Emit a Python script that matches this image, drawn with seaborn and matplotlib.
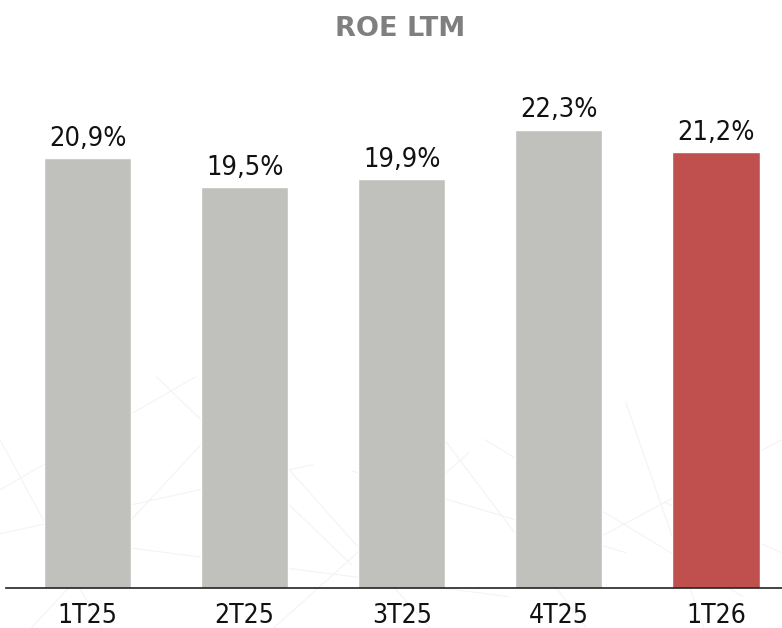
import matplotlib
matplotlib.use("Agg")
import matplotlib.pyplot as plt
from matplotlib.lines import Line2D
import seaborn as sns
import pandas as pd

quarters = ["1T25", "2T25", "3T25", "4T25", "1T26"]
roe_ltm = [20.9, 19.5, 19.9, 22.3, 21.2]
bar_colors = ["#C0C1BC", "#C0C1BC", "#C0C1BC", "#C0C1BC", "#C0504D"]

sns.set_theme(style="white")
plt.rcParams["font.family"] = ["DejaVu Sans"]

df = pd.DataFrame({"trimestre": quarters, "roe": roe_ltm})

fig = plt.figure(figsize=(7.82, 6.28), dpi=100)

# faint network texture in the lower part of the slide background
web = [
    ((0.00, 0.30), (0.13, 0.00)), ((0.00, 0.15), (0.40, 0.26)),
    ((0.04, 0.00), (0.30, 0.35)), ((0.15, 0.13), (0.65, 0.05)),
    ((0.30, 0.35), (0.55, 0.00)), ((0.35, 0.00), (0.60, 0.28)),
    ((0.45, 0.25), (0.80, 0.12)), ((0.55, 0.33), (0.75, 0.00)),
    ((0.62, 0.30), (0.95, 0.05)), ((0.70, 0.10), (1.00, 0.30)),
    ((0.80, 0.36), (0.90, 0.00)), ((0.85, 0.20), (1.00, 0.12)),
    ((0.20, 0.40), (0.45, 0.10)), ((0.00, 0.22), (0.25, 0.40)),
]
for (x0, y0), (x1, y1) in web:
    fig.add_artist(Line2D([x0, x1], [y0, y1], transform=fig.transFigure,
                          color="#F4F2F0", lw=0.7, zorder=0))

ax = fig.add_axes([6 / 782, 40 / 628, 776 / 782, 514 / 628])
ax.patch.set_alpha(0)

sns.barplot(data=df, x="trimestre", y="roe", hue="trimestre",
            palette=bar_colors, width=0.555, legend=False, ax=ax,
            saturation=1)

ax.set_xlim(-0.519, 4.42)
ax.set_ylim(0, 25)

for i, v in enumerate(roe_ltm):
    ax.annotate(f"{v:.1f}%".replace(".", ","), (i, v), xytext=(0, 4.5),
                textcoords="offset points", ha="center", va="bottom",
                fontsize=19.5, color="#111111", fontstretch="condensed")

for s in ["top", "right", "left"]:
    ax.spines[s].set_visible(False)
ax.spines["bottom"].set_color("#222222")
ax.spines["bottom"].set_linewidth(1.2)
ax.set_yticks([])
ax.set_xlabel("")
ax.set_ylabel("")
ax.tick_params(axis="x", length=0, pad=11, labelsize=19, labelcolor="#111111")
for lbl in ax.get_xticklabels():
    lbl.set_fontstretch("condensed")

fig.text(400 / 782, 1 - 29 / 628, "ROE LTM", ha="center", va="center",
         fontsize=19.5, fontweight="bold", color="#7F7F7F")

fig.savefig("out.png", dpi=100)
